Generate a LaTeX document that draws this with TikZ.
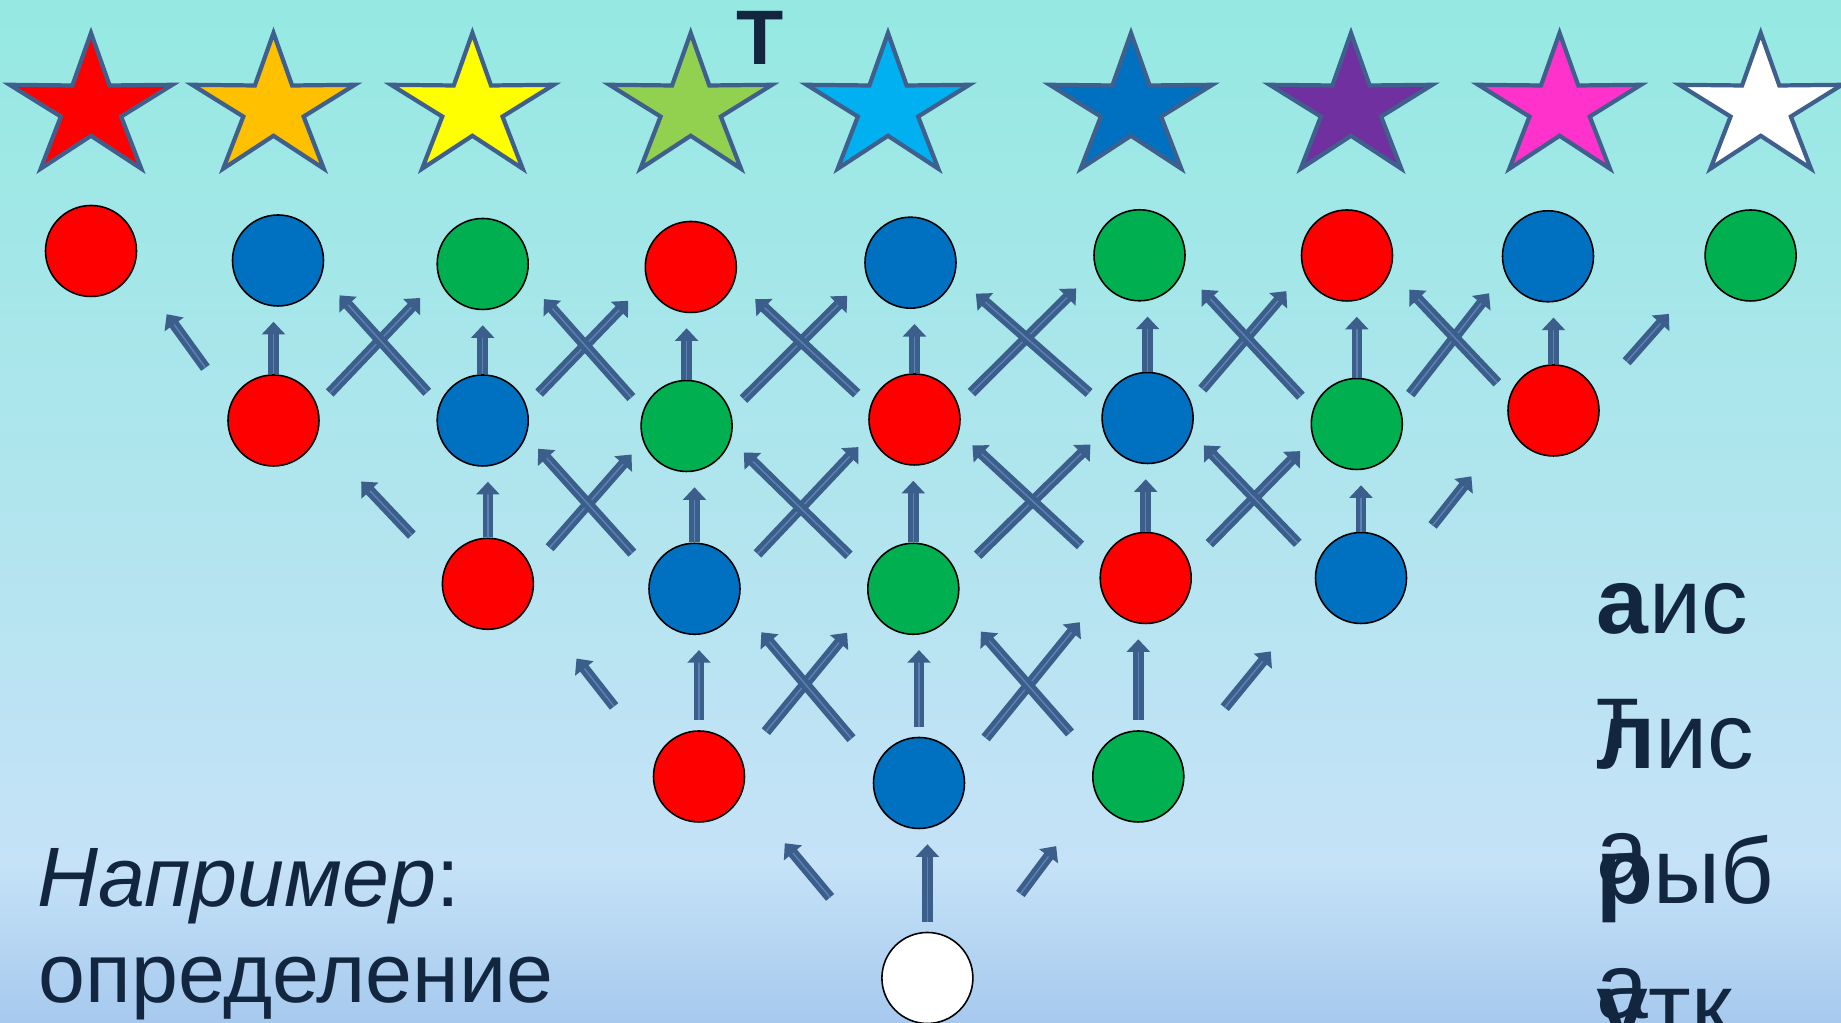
\documentclass[tikz,border=0pt]{standalone}
\usepackage{fontspec}
\setmainfont{Liberation Sans}
\usetikzlibrary{arrows.meta}
\definecolor{navy}{HTML}{132640}
\definecolor{outline}{HTML}{3F5F8C}
\definecolor{arrowblue}{HTML}{3C5E8B}
\definecolor{arrowlight}{HTML}{5A82B5}
\definecolor{ballred}{HTML}{FF0000}
\definecolor{ballblue}{HTML}{0070C0}
\definecolor{ballgreen}{HTML}{00B050}
\definecolor{bgtop}{HTML}{95E9E2}
\definecolor{bgmid}{HTML}{AFE9F2}
\definecolor{bgband}{HTML}{C5E2F7}
\definecolor{bgbottom}{HTML}{A6C9EE}
\def\starpath{(90:.75) -- (126:.278) -- (162:.75) -- (198:.278) -- (234:.75) -- (270:.278) -- (306:.75) -- (342:.278) -- (18:.75) -- (54:.278) -- cycle}
\newcommand\putstar[2]{\definecolor{starfill}{HTML}{#2}\draw[starline,fill=starfill,shift={(#1,9.15)},xscale=1.14] \starpath;}
\tikzset{
  starline/.style={draw=outline, line width=1.2pt},
  ball/.style={circle, draw=black, line width=.45pt, minimum size=.91cm, inner sep=0pt},
  arr/.style={draw=arrowblue, line width=1.3pt, double=arrowlight, double distance=.4pt, -{Triangle[width=6.5pt,length=3.6pt]}},
  up/.style={arr, shorten >=1.5mm},
  dg/.style 2 args={arr, shorten <=#1, shorten >=#2},
  word/.style={text=navy, inner sep=0pt, anchor=base west, font=\fontsize{26.5}{30}\selectfont}
}

\begin{document}
\begin{tikzpicture}
			\clip (0,0) rectangle (18.41,10.23);
			\shade[bottom color=bgbottom, top color=bgband] (0,0) rectangle (18.41,1.6);
			\shade[bottom color=bgband, middle color=bgmid, top color=bgtop] (0,1.6) rectangle (18.41,10.23);
			% stars
			\putstar{0.91}{FF0000}
			\putstar{2.735}{FFC000}
			\putstar{4.724}{FFFF00}
			\putstar{6.907}{92D050}
			\putstar{8.88}{00B0F0}
			\putstar{11.31}{0070C0}
			\putstar{13.51}{7030A0}
			\putstar{15.596}{FF33CC}
			\putstar{17.607}{FFFFFF}
			\node[word, anchor=base, font=\bfseries\fontsize{22}{26}\selectfont] (tee) at (7.60,9.58) {Т};
			% circles
			\node[ball, fill=ballred] (a1) at (0.91,7.72) {};
			\node[ball, fill=ballblue] (a2) at (2.78,7.625) {};
			\node[ball, fill=ballgreen] (a3) at (4.827,7.59) {};
			\node[ball, fill=ballred] (a4) at (6.908,7.56) {};
			\node[ball, fill=ballblue] (a5) at (9.105,7.603) {};
			\node[ball, fill=ballgreen] (a6) at (11.395,7.677) {};
			\node[ball, fill=ballred] (a7) at (13.47,7.675) {};
			\node[ball, fill=ballblue] (a8) at (15.48,7.667) {};
			\node[ball, fill=ballgreen] (a9) at (17.506,7.675) {};
			\node[ball, fill=ballred] (b2) at (2.735,6.025) {};
			\node[ball, fill=ballblue] (b3) at (4.827,6.025) {};
			\node[ball, fill=ballgreen] (b4) at (6.866,5.97) {};
			\node[ball, fill=ballred] (b5) at (9.145,6.035) {};
			\node[ball, fill=ballblue] (b6) at (11.476,6.05) {};
			\node[ball, fill=ballgreen] (b7) at (13.568,5.99) {};
			\node[ball, fill=ballred] (b8) at (15.535,6.125) {};
			\node[ball, fill=ballred] (c3) at (4.879,4.392) {};
			\node[ball, fill=ballblue] (c4) at (6.945,4.342) {};
			\node[ball, fill=ballgreen] (c5) at (9.133,4.342) {};
			\node[ball, fill=ballred] (c6) at (11.457,4.45) {};
			\node[ball, fill=ballblue] (c7) at (13.61,4.45) {};
			\node[ball, fill=ballred] (d4) at (6.99,2.465) {};
			\node[ball, fill=ballblue] (d5) at (9.19,2.4) {};
			\node[ball, fill=ballgreen] (d6) at (11.383,2.465) {};
			\node[ball, fill=white] (e5) at (9.274,0.45) {};
			% straight up
			\foreach \l/\u in {b2/a2,b3/a3,b4/a4,b5/a5,b6/a6,b7/a7,b8/a8,c3/b3,c4/b4,c5/b5,c6/b6,c7/b7}
				\draw[up] (\l.north) -- (\l.north |- \u.south);
			\foreach \l/\u in {d4/c4,d5/c5,d6/c6,e5/d5}
				\draw[up, shorten <=1mm] (\l.north) -- (\l.north |- \u.south);
			% crossing
			\foreach \l/\u in {b2/a3,b3/a4,b4/a5,b5/a6,b6/a7,b7/a8}
				\draw[dg={3.8mm}{4.7mm}] ([xshift=3mm]\l.center) -- ([xshift=-3mm]\u.center);
			\foreach \l/\u in {b3/a2,b4/a3,b5/a4,b6/a5,b7/a6,b8/a7}
				\draw[dg={3.8mm}{4.7mm}] ([xshift=-3mm]\l.center) -- ([xshift=3mm]\u.center);
			\foreach \l/\u in {c3/b4,c4/b5,c5/b6,c6/b7}
				\draw[dg={4.8mm}{3.8mm}] ([xshift=3mm]\l.center) -- ([xshift=-3mm]\u.center);
			\foreach \l/\u in {c4/b3,c5/b4,c6/b5,c7/b6}
				\draw[dg={4.8mm}{3.8mm}] ([xshift=-3mm]\l.center) -- ([xshift=3mm]\u.center);
			\foreach \l/\u in {d4/c5,d5/c6}
				\draw[dg={5.8mm}{5.7mm}] ([xshift=3mm]\l.center) -- ([xshift=-3mm]\u.center);
			\foreach \l/\u in {d5/c4,d6/c5}
				\draw[dg={5.8mm}{5.7mm}] ([xshift=-3mm]\l.center) -- ([xshift=3mm]\u.center);
			% ends
			\draw[dg={6.5mm}{7.8mm}] ([xshift=-3mm]b2.center) -- ([xshift=3mm]a1.center);
			\draw[dg={6.5mm}{7.8mm}] ([xshift=3mm]b8.center) -- ([xshift=-3mm]a9.center);
			\draw[dg={6.7mm}{8.4mm}] ([xshift=-3mm]c3.center) -- ([xshift=3mm]b2.center);
			\draw[dg={6.7mm}{8.4mm}] ([xshift=3mm]c7.center) -- ([xshift=-3mm]b8.center);
			\draw[dg={8.9mm}{9.5mm}] ([xshift=-3mm]d4.center) -- ([xshift=3mm]c3.center);
			\draw[dg={8.9mm}{9.5mm}] ([xshift=3mm]d6.center) -- ([xshift=-3mm]c7.center);
			\draw[dg={10.5mm}{8.7mm}] ([xshift=-3mm]e5.center) -- ([xshift=3mm]d4.center);
			\draw[dg={10.5mm}{8.7mm}] ([xshift=3mm]e5.center) -- ([xshift=-3mm]d6.center);
			% texts
			\node[word, font=\fontsize{24}{29}\selectfont] (eg) at (0.37,1.163) {\textit{Например}:};
			\node[word, font=\fontsize{24}{29}\selectfont] (def) at (0.38,0.2) {определение};
			\node[word] (w1) at (15.96,3.897) {\textbf{а}ис};
			\node[word] (w2) at (15.96,2.547) {\textbf{л}ис};
			\node[word] (w3) at (15.96,1.197) {\textbf{р}ыб};
			\node[word] (w4) at (15.96,-0.153) {\textbf{у}тк};
			\node[word] (t2) at (15.96,2.747) {т};
			\node[word] (a3w) at (15.96,1.397) {а};
			\node[word] (a4w) at (15.96,0.047) {а};
		\end{tikzpicture}
\end{document}
